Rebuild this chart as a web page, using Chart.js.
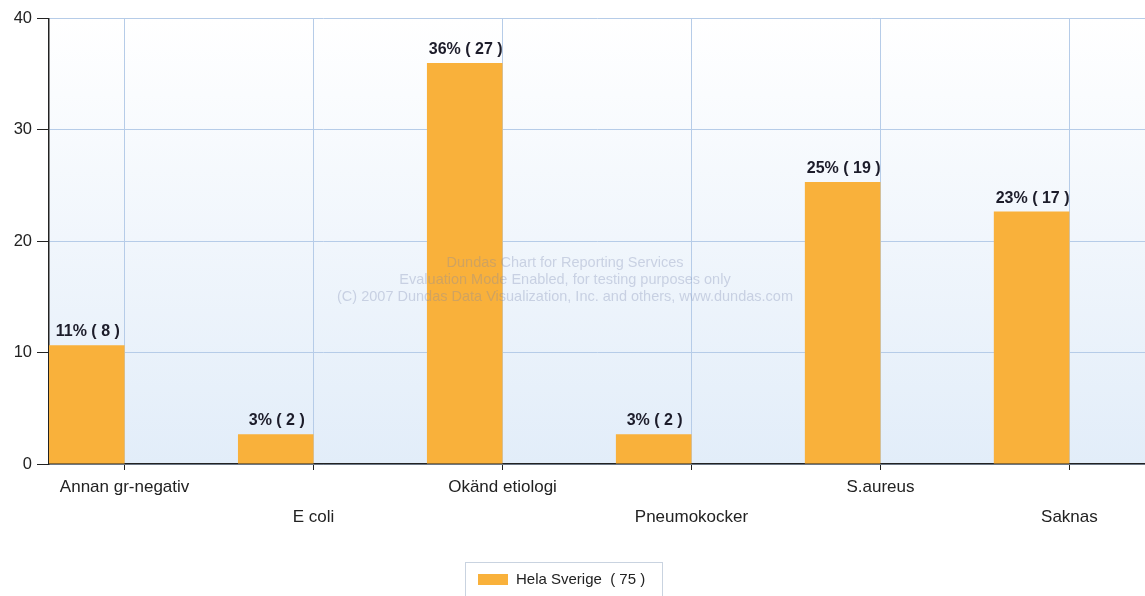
<!DOCTYPE html>
<html>
<head>
<meta charset="utf-8">
<script src="https://cdn.jsdelivr.net/npm/chart.js@4/dist/chart.umd.min.js"></script>
<style>
  html, body { margin: 0; padding: 0; background: #ffffff; }
  #wrap { width: 1145px; height: 596px; position: relative; }
</style>
</head>
<body>
<div id="wrap"><canvas id="c"></canvas></div>
<script>
// Etiologi – andel (%) och antal fall, Hela Sverige
const CATEGORIES = ['Annan gr-negativ', 'E coli', 'Okänd etiologi', 'Pneumokocker', 'S.aureus', 'Saknas'];
const SHARE_PCT  = [10.67, 2.67, 36.0, 2.67, 25.33, 22.67];
const COUNTS     = [8, 2, 27, 2, 19, 17];
const SERIES_NAME = 'Hela Sverige';
const SERIES_TOTAL = 75;
const Y_TICKS = [0, 10, 20, 30, 40];

const BAR_COLOR = '#F9B13B';
const GRID_COLOR = '#b6cce8';
const AXIS_COLOR = '#222222';
const TEXT_COLOR = '#222222';

// Plot-area background: white fading to pale blue
const plotBackground = {
  id: 'plotBackground',
  beforeDraw(chart) {
    const { ctx, chartArea: a } = chart;
    const g = ctx.createLinearGradient(0, a.top, 0, a.bottom);
    g.addColorStop(0, '#ffffff');
    g.addColorStop(1, '#e2edf9');
    ctx.save();
    ctx.fillStyle = g;
    ctx.fillRect(a.left, a.top, a.right - a.left, a.bottom - a.top);
    ctx.restore();
  }
};

// Watermark text in the middle of the plot
const watermark = {
  id: 'watermark',
  afterDatasetsDraw(chart) {
    const { ctx } = chart;
    const lines = [
      'Dundas Chart for Reporting Services',
      'Evaluation Mode Enabled, for testing purposes only',
      '(C) 2007 Dundas Data Visualization, Inc. and others, www.dundas.com'
    ];
    ctx.save();
    ctx.font = '14.5px "Liberation Sans", Arial, sans-serif';
    ctx.fillStyle = 'rgba(120, 135, 175, 0.32)';
    ctx.textAlign = 'center';
    ctx.textBaseline = 'middle';
    lines.forEach((t, i) => ctx.fillText(t, 565, 263 + i * 17));
    ctx.restore();
  }
};

// "nn% ( n )" above each bar
const barLabels = {
  id: 'barLabels',
  afterDatasetsDraw(chart) {
    const { ctx } = chart;
    const meta = chart.getDatasetMeta(0);
    ctx.save();
    ctx.font = 'bold 16px "Liberation Sans", Arial, sans-serif';
    ctx.fillStyle = '#1c1c2a';
    ctx.textAlign = 'center';
    ctx.textBaseline = 'alphabetic';
    meta.data.forEach((bar, i) => {
      const txt = Math.round(SHARE_PCT[i]) + '% ( ' + COUNTS[i] + ' )';
      ctx.fillText(txt, bar.x + 1, bar.y - 9);
    });
    ctx.restore();
  }
};

// Boxed legend at the bottom
const boxLegend = {
  id: 'boxLegend',
  afterDraw(chart) {
    const { ctx } = chart;
    const ds = chart.data.datasets[0];
    const x0 = 465.5, y0 = 562.5, w = 197, h = 40;
    ctx.save();
    ctx.fillStyle = '#ffffff';
    ctx.fillRect(x0, y0, w, h);
    ctx.strokeStyle = '#c9d3e0';
    ctx.lineWidth = 1;
    ctx.strokeRect(x0, y0, w, h);
    ctx.fillStyle = ds.backgroundColor;
    ctx.fillRect(478, 574, 30, 11);
    ctx.font = '15px "Liberation Sans", Arial, sans-serif';
    ctx.fillStyle = TEXT_COLOR;
    ctx.textAlign = 'left';
    ctx.textBaseline = 'middle';
    ctx.fillText(ds.label, 516, 580);
    ctx.restore();
  }
};

const mainData = CATEGORIES.map((_, i) => ({ x: i, y: SHARE_PCT[i] }));

new Chart(document.getElementById('c'), {
  type: 'bar',
  data: {
    datasets: [
      {
        label: SERIES_NAME + '  ( ' + SERIES_TOTAL + ' )',
        data: mainData,
        backgroundColor: BAR_COLOR,
        borderWidth: 0,
        categoryPercentage: 0.8,
        barPercentage: 1.0
      },
      {
        // second (empty) series slot of each group
        label: '',
        data: [],
        backgroundColor: 'rgba(0,0,0,0)',
        categoryPercentage: 0.8,
        barPercentage: 1.0
      }
    ]
  },
  options: {
    responsive: true,
    maintainAspectRatio: false,
    animation: false,
    events: [],
    layout: { padding: { top: 18.5, right: 0, bottom: 68, left: 0 } },
    plugins: {
      legend: { display: false },
      tooltip: { enabled: false }
    },
    scales: {
      x: {
        type: 'linear',
        offset: false,
        min: -0.4,
        max: CATEGORIES.length - 0.6,
        afterFit(scale) { scale.height = 64; },
        ticks: {
          stepSize: 1,
          includeBounds: false,
          autoSkip: false,
          maxRotation: 0,
          minRotation: 0,
          padding: 2,
          color: TEXT_COLOR,
          font: { family: '"Liberation Sans", Arial, sans-serif', size: 17, lineHeight: 1.76 },
          callback(value) {
            const label = CATEGORIES[value];
            if (label === undefined) return '';
            return value % 2 ? ['', label] : label;
          }
        },
        grid: {
          offset: false,
          color: GRID_COLOR,
          tickColor: AXIS_COLOR,
          tickLength: 6,
          lineWidth: 1
        },
        border: { color: AXIS_COLOR, width: 1.5 }
      },
      y: {
        min: Y_TICKS[0],
        max: Y_TICKS[Y_TICKS.length - 1],
        afterFit(scale) { scale.width = 49; },
        afterBuildTicks(scale) { scale.ticks = Y_TICKS.map(v => ({ value: v })); },
        ticks: {
          padding: 5,
          color: TEXT_COLOR,
          font: { family: '"Liberation Sans", Arial, sans-serif', size: 16.5 }
        },
        grid: {
          color: GRID_COLOR,
          tickColor: AXIS_COLOR,
          tickLength: 12,
          lineWidth: 1
        },
        border: { color: AXIS_COLOR, width: 1.5 }
      }
    }
  },
  plugins: [plotBackground, barLabels, watermark, boxLegend]
});
</script>
</body>
</html>
